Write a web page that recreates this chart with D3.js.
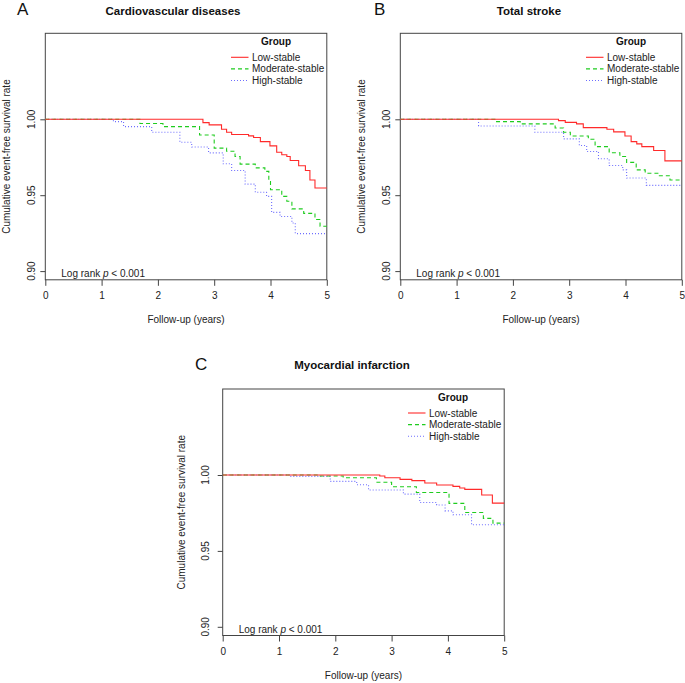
<!DOCTYPE html>
<html><head><meta charset="utf-8">
<script src="https://cdn.jsdelivr.net/npm/d3@7"></script>
<style>
body{margin:0;background:#fff;}
svg{display:block;font-family:"Liberation Sans",Arial,sans-serif;}
</style></head>
<body>
<svg id="c" width="685" height="683"></svg>
<script>
// ---- data ----
const groups = ["Low-stable", "Moderate-stable", "High-stable"];
const xTicks = [0, 1, 2, 3, 4, 5];
const yTicks = [0.90, 0.95, 1.00];
const yTickLabels = ["0.90", "0.95", "1.00"];

// Panel A: Cardiovascular diseases  [years, survival]
const cvdLow = [[0,1],[2.80,0.9978],[2.91,0.9963],[3.13,0.9934],[3.22,0.9915],[3.31,0.9900],[3.61,0.9891],[3.70,0.9880],[3.82,0.9853],[3.99,0.9825],[4.11,0.9783],[4.20,0.9766],[4.29,0.9755],[4.35,0.9729],[4.50,0.9694],[4.62,0.9663],[4.70,0.9600],[4.79,0.9547]];
const cvdMod = [[0,1],[1.68,0.9972],[2.09,0.9952],[2.74,0.9897],[3.00,0.9810],[3.22,0.9790],[3.37,0.9755],[3.46,0.9705],[3.73,0.9680],[3.90,0.9657],[3.97,0.9590],[4.00,0.9536],[4.20,0.9492],[4.29,0.9460],[4.38,0.9410],[4.59,0.9380],[4.79,0.9340],[4.88,0.9295]];
const cvdHigh = [[0,1],[1.21,0.9985],[1.39,0.9952],[1.89,0.9915],[2.39,0.9849],[2.60,0.9818],[2.90,0.9779],[3.16,0.9707],[3.31,0.9663],[3.55,0.9573],[3.73,0.9519],[3.93,0.9492],[4.02,0.9387],[4.17,0.9360],[4.38,0.9317],[4.44,0.9247]];

// Panel B: Total stroke
const strokeLow = [[0,1],[2.81,0.9991],[2.93,0.9980],[3.13,0.9970],[3.25,0.9945],[3.67,0.9934],[3.79,0.9917],[3.99,0.9890],[4.10,0.9853],[4.20,0.9838],[4.29,0.9820],[4.50,0.9794],[4.70,0.9726]];
const strokeMod = [[0,1],[1.68,0.9985],[2.13,0.9970],[2.75,0.9943],[2.90,0.9915],[3.02,0.9890],[3.34,0.9869],[3.46,0.9820],[3.71,0.9780],[3.90,0.9755],[4.02,0.9716],[4.19,0.9667],[4.35,0.9645],[4.59,0.9628],[4.79,0.9600]];
const strokeHigh = [[0,1],[1.39,0.9956],[2.39,0.9915],[2.90,0.9871],[3.18,0.9827],[3.31,0.9788],[3.52,0.9740],[3.71,0.9696],[3.95,0.9667],[4.02,0.9613],[4.37,0.9565]];

// Panel C: Myocardial infarction
const miLow = [[0,1],[2.79,0.9993],[2.88,0.9982],[3.15,0.9971],[3.36,0.9963],[3.59,0.9947],[3.80,0.9934],[4.09,0.9925],[4.21,0.9914],[4.30,0.9905],[4.60,0.9868],[4.79,0.9815]];
const miMod = [[0,1],[1.70,0.9993],[2.14,0.9982],[2.73,0.9952],[3.00,0.9923],[3.44,0.9885],[4.02,0.9813],[4.30,0.9753],[4.63,0.9714],[4.80,0.9683]];
const miHigh = [[0,1],[1.20,0.9991],[1.91,0.9958],[2.38,0.9936],[2.59,0.9901],[3.21,0.9874],[3.50,0.9819],[3.80,0.9802],[3.95,0.9764],[4.09,0.9738],[4.42,0.9672]];

const panels = [
  {letter:"A", title:"Cardiovascular diseases", series:[cvdLow,cvdMod,cvdHigh],
   L:45.3, T:33.3, titleX:173, titleY:15, letterX:17, letterY:15, yLab:-10, yTitle:-35, legX:231},
  {letter:"B", title:"Total stroke", series:[strokeLow,strokeMod,strokeHigh],
   L:400.3, T:33.3, titleX:529, titleY:15, letterX:374, letterY:15, yLab:-10, yTitle:-35, legX:586},
  {letter:"C", title:"Myocardial infarction", series:[miLow,miMod,miHigh],
   L:222.7, T:389, titleX:352, titleY:369, letterX:195, letterY:370, yLab:-14, yTitle:-38, legX:408}
];

// ---- styles ----
const colors = ["#ff2a2a", "#1fcc1f", "#6e6eff"];
const dashes = [null, "4,3", "1,2"];
const W = 281.5, H = 246.5;

const svg = d3.select("#c");
panels.forEach(p => {
  const g = svg.append("g");
  const x = d3.scaleLinear().domain([0,5]).range([p.L, p.L + W]);
  const y = d3.scaleLinear().domain([0.90,1.00]).range([p.T + 237.8, p.T + 86]);

  // box
  g.append("rect").attr("x", p.L).attr("y", p.T).attr("width", W).attr("height", H)
    .attr("fill","none").attr("stroke","#444").attr("stroke-width",1);

  // x axis
  const xa = g.append("g").attr("transform",`translate(0,${p.T+H})`)
    .call(d3.axisBottom(x).tickValues(xTicks).tickFormat(d3.format("d")).tickSize(6).tickPadding(6));
  xa.select(".domain").remove();
  xa.selectAll("line").attr("stroke","#444");
  xa.selectAll("text").attr("font-size","10px").attr("fill","#222")
    .attr("font-family",'"Liberation Sans",Arial,sans-serif');

  // y axis
  const ya = g.append("g").attr("transform",`translate(${p.L},0)`)
    .call(d3.axisLeft(y).tickValues(yTicks).tickFormat((d,i)=>yTickLabels[i]).tickSize(5));
  ya.select(".domain").remove();
  ya.selectAll("line").attr("stroke","#444");
  ya.selectAll("text").remove();
  yTicks.forEach((v,i) => {
    g.append("text").attr("transform",`translate(${p.L + p.yLab},${y(v)}) rotate(-90)`)
      .attr("text-anchor","middle").attr("font-size","10px").attr("fill","#222").text(yTickLabels[i]);
  });

  // axis titles
  g.append("text").attr("transform",`translate(${p.L + p.yTitle},${p.T + H/2}) rotate(-90)`)
    .attr("text-anchor","middle").attr("font-size","10px").attr("fill","#222")
    .text("Cumulative event-free survival rate");
  g.append("text").attr("x", p.L + W/2).attr("y", p.T + 290)
    .attr("text-anchor","middle").attr("font-size","10px").attr("fill","#222").text("Follow-up (years)");

  // title & letter
  g.append("text").attr("x", p.titleX).attr("y", p.titleY).attr("text-anchor","middle")
    .attr("font-size","11.5px").attr("font-weight","bold").attr("fill","#111").text(p.title);
  g.append("text").attr("x", p.letterX).attr("y", p.letterY)
    .attr("font-size","17px").attr("fill","#111").text(p.letter);

  // curves
  const line = d3.line().x(d=>x(d[0])).y(d=>y(d[1])).curve(d3.curveStepAfter);
  p.series.slice().reverse().forEach((s,ri) => {
    const i = 2 - ri;
    const pts = s.concat([[5, s[s.length-1][1]]]);
    g.append("path").datum(pts).attr("d", line).attr("fill","none")
      .attr("stroke", colors[i]).attr("stroke-width", 1.1)
      .attr("stroke-dasharray", dashes[i]);
  });

  // log rank
  const lr = g.append("text").attr("x", p.L + 16).attr("y", p.T + 243.5)
    .attr("font-size","10px").attr("fill","#222");
  lr.append("tspan").text("Log rank ");
  lr.append("tspan").attr("font-style","italic").text("p");
  lr.append("tspan").text(" < 0.001");

  // legend
  const lg = g.append("g");
  lg.append("text").attr("x", p.legX + 45).attr("y", p.T + 12)
    .attr("text-anchor","middle").attr("font-size","10px").attr("font-weight","bold").attr("fill","#111").text("Group");
  groups.forEach((name,i) => {
    const yy = p.T + 24 + i*11.6;
    lg.append("line").attr("x1", p.legX).attr("x2", p.legX + 17.5).attr("y1", yy).attr("y2", yy)
      .attr("stroke", colors[i]).attr("stroke-width", 1.1).attr("stroke-dasharray", dashes[i]);
    lg.append("text").attr("x", p.legX + 21).attr("y", yy + 3.5)
      .attr("font-size","10px").attr("fill","#222").text(name);
  });
});
</script>
</body></html>
